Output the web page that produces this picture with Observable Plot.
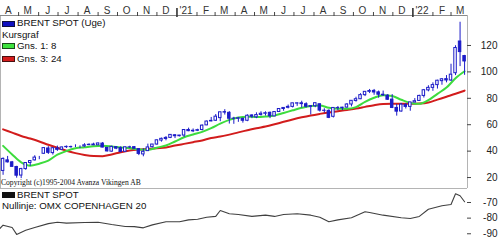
<!DOCTYPE html>
<html><head><meta charset="utf-8">
<script src="https://cdn.jsdelivr.net/npm/d3@7"></script>
<script src="https://cdn.jsdelivr.net/npm/@observablehq/plot@0.6"></script>
<style>
html,body{margin:0;padding:0;background:#fff;}
#wrap{position:relative;width:500px;height:240px;overflow:hidden;font-family:Arial,"Liberation Sans",sans-serif;}
#wrap svg{position:absolute;left:0;background:none;}
.lg{position:absolute;font-size:9.7px;color:#111;white-space:nowrap;line-height:12px;}
.sw{position:absolute;width:13px;height:6px;box-sizing:border-box;border:1px solid #222;}
.cr{position:absolute;font-family:"Times New Roman","Liberation Serif",serif;font-size:7.6px;line-height:9px;color:#111;white-space:nowrap;}
</style></head><body><div id="wrap"></div>
<script>
// ---- data ----
const weeks = ["2020-04-03","2020-04-10","2020-04-17","2020-04-24","2020-05-01","2020-05-08","2020-05-15","2020-05-22","2020-05-29","2020-06-05","2020-06-12","2020-06-19","2020-06-26","2020-07-03","2020-07-10","2020-07-17","2020-07-24","2020-07-31","2020-08-07","2020-08-14","2020-08-21","2020-08-28","2020-09-04","2020-09-11","2020-09-18","2020-09-25","2020-10-02","2020-10-09","2020-10-16","2020-10-23","2020-10-30","2020-11-06","2020-11-13","2020-11-20","2020-11-27","2020-12-04","2020-12-11","2020-12-18","2020-12-25",
"2021-01-01","2021-01-08","2021-01-15","2021-01-22","2021-01-29","2021-02-05","2021-02-12","2021-02-19","2021-02-26","2021-03-05","2021-03-12","2021-03-19","2021-03-26","2021-04-02","2021-04-09","2021-04-16","2021-04-23","2021-04-30","2021-05-07","2021-05-14","2021-05-21","2021-05-28","2021-06-04","2021-06-11","2021-06-18","2021-06-25","2021-07-02","2021-07-09","2021-07-16","2021-07-23","2021-07-30","2021-08-06","2021-08-13","2021-08-20","2021-08-27","2021-09-03","2021-09-10","2021-09-17","2021-09-24","2021-10-01","2021-10-08","2021-10-15","2021-10-22","2021-10-29","2021-11-05","2021-11-12","2021-11-19","2021-11-26","2021-12-03","2021-12-10","2021-12-17","2021-12-24","2021-12-31",
"2022-01-07","2022-01-14","2022-01-21","2022-01-28","2022-02-04","2022-02-11","2022-02-18","2022-02-25","2022-03-04","2022-03-11","2022-03-18"];
const open  = [25.0,33.0,31.5,28.0,21.5,26.4,31.0,33.0,35.3,38.0,42.0,38.5,42.0,41.0,43.0,43.0,43.3,43.3,43.5,44.5,45.0,44.4,45.7,42.5,39.6,43.0,42.3,39.5,42.8,43.0,41.5,37.5,40.0,43.0,45.0,48.0,49.2,50.0,52.0,
51.3,51.8,56.0,55.0,55.4,56.0,59.5,62.5,63.0,65.0,69.5,69.0,64.5,64.5,64.5,63.0,67.0,65.6,67.4,68.3,69.0,66.3,69.6,71.9,72.8,73.5,76.0,76.2,75.5,73.5,74.0,75.5,70.5,70.5,66.0,72.5,72.5,73.0,75.3,78.0,79.3,82.4,84.9,85.6,84.5,82.7,82.0,79.0,72.7,70.0,75.0,73.5,76.8,
78.0,81.8,86.0,87.9,90.0,93.0,94.5,93.5,99.0,123.0,112.0];
const high  = [34.9,36.0,32.2,28.5,27.0,31.0,32.5,36.5,36.0,42.5,43.4,42.8,43.8,43.0,43.9,43.8,44.8,44.0,45.6,45.5,46.0,46.2,46.5,42.5,43.8,43.0,43.3,43.2,43.7,43.5,41.8,41.8,45.3,45.0,48.5,49.9,51.0,52.5,52.5,
51.9,56.3,57.4,56.8,56.6,59.9,62.8,65.5,67.7,69.4,71.4,69.9,65.6,65.5,64.9,67.5,67.6,69.0,69.8,69.8,69.6,69.9,72.0,73.0,74.9,76.2,76.6,77.8,76.6,74.0,76.4,75.6,72.1,71.3,72.7,73.8,73.2,76.0,78.1,80.8,83.5,85.1,86.7,86.7,85.5,85.5,82.8,82.8,75.3,76.1,75.9,76.9,79.8,
82.3,86.7,89.5,91.7,93.7,95.0,97.2,105.8,119.8,137.6,112.5];
const low   = [21.7,31.0,27.7,19.5,19.2,25.5,28.5,32.5,33.5,37.5,37.5,37.0,39.8,40.5,42.0,42.2,42.7,42.0,43.0,44.2,44.2,44.4,42.5,39.3,39.2,41.1,38.8,39.4,41.9,41.5,36.6,35.7,39.8,42.5,44.5,46.8,47.8,49.5,49.5,
50.8,50.4,54.7,54.0,54.8,55.3,59.3,62.2,62.5,62.3,67.3,60.5,60.3,61.8,61.2,62.3,64.6,64.6,66.5,66.6,64.6,66.1,69.3,70.2,72.0,72.7,73.9,72.6,72.7,67.4,72.9,69.6,68.8,64.6,65.1,70.6,70.7,72.5,73.5,77.1,79.0,81.3,83.6,82.3,80.1,81.4,78.4,72.2,66.5,69.5,71.9,70.2,76.7,
77.7,80.2,84.9,85.3,87.0,89.9,91.7,92.7,97.2,104.0,97.4];
const close = [34.1,31.5,28.1,21.4,26.4,31.0,32.5,35.1,35.3,42.3,38.7,42.2,41.0,42.8,43.2,43.1,43.3,43.3,44.4,44.8,44.4,45.8,42.7,39.8,43.2,41.9,39.3,42.9,42.9,41.8,37.9,39.5,42.8,45.0,48.2,49.3,50.0,52.3,51.3,
51.8,56.0,55.1,55.4,55.9,59.3,62.4,62.9,66.1,69.4,69.2,64.5,64.6,64.9,63.0,66.8,66.1,67.3,68.3,68.7,66.4,69.6,71.9,72.7,73.5,76.2,76.2,75.6,73.6,74.1,76.3,70.7,70.6,65.2,72.7,72.6,72.9,75.3,78.1,79.3,82.4,84.9,85.5,84.4,82.7,82.2,78.9,72.7,69.9,75.2,73.5,76.9,77.8,
81.8,86.1,87.9,90.0,93.3,94.4,93.5,97.9,118.1,115.0,107.9];

const maDates = ["2020-04-03","2020-04-17","2020-05-01","2020-05-15","2020-05-29","2020-06-12","2020-06-26","2020-07-10","2020-07-24","2020-08-07","2020-08-21","2020-09-04","2020-09-18","2020-10-02","2020-10-16","2020-10-30","2020-11-13","2020-11-27","2020-12-11","2020-12-25",
"2021-01-08","2021-01-22","2021-02-05","2021-02-19","2021-03-05","2021-03-19","2021-04-02","2021-04-16","2021-04-30","2021-05-14","2021-05-28","2021-06-11","2021-06-25","2021-07-09","2021-07-23","2021-08-06","2021-08-20","2021-09-03","2021-09-17","2021-10-01","2021-10-15","2021-10-29","2021-11-12","2021-11-26","2021-12-10","2021-12-24",
"2022-01-07","2022-01-21","2022-02-04","2022-02-18","2022-03-04","2022-03-18"];
const ma8  = [44,37.5,31.5,29,30.5,32.8,37.3,40.1,42.1,42.9,43.7,44.0,43.5,42.7,42.3,41.2,41.1,42.6,44.3,47.3,50.5,52.6,54.6,57.4,60.8,63.7,65.5,66.1,65.8,66.2,67.0,68.9,70.9,72.8,74.2,74.5,72.8,72.0,72.0,73.3,77.3,80.4,82.4,81.7,78.9,76.5,75.8,78.6,83.4,88.1,95.2,100.5];
const ma24 = [56.5,54,51.5,49.5,47.3,44.8,42.5,40.3,38.5,37.1,36.3,36.2,37.5,39.2,40.5,41.2,41.6,42.2,42.8,44.2,45.5,46.8,48.1,50,51,52.5,54.2,55.8,57.4,58.6,60.3,62.2,64,65.6,67,68.2,69.3,70.2,71.2,72.2,73.5,74.8,75.7,75.9,75.8,75.8,76,76.8,79,81.2,83.4,85.8];

const rsDates = ["2020-03-27","2020-04-03","2020-04-17","2020-04-24","2020-05-08","2020-05-22","2020-06-12","2020-06-26","2020-07-10","2020-08-07","2020-08-28","2020-09-18","2020-10-09","2020-10-23","2020-11-06","2020-11-20","2020-12-11",
"2021-01-01","2021-01-15","2021-01-29","2021-02-12","2021-02-26","2021-03-05","2021-03-19","2021-04-02","2021-04-23","2021-05-14","2021-05-28","2021-06-11","2021-07-02","2021-07-23","2021-08-06","2021-08-20","2021-09-03","2021-09-24","2021-10-15","2021-10-22","2021-11-12","2021-12-10","2021-12-24",
"2022-01-07","2022-01-21","2022-02-11","2022-02-25","2022-03-04","2022-03-11","2022-03-18"];
const rsValues = [-87.5,-84.5,-86,-90.4,-87.8,-86,-83.5,-82.6,-83.2,-82.8,-82.6,-84.1,-85.3,-85.4,-86.2,-84.3,-82.3,
-82.3,-81.1,-80.7,-79.4,-78.9,-75.1,-77.2,-77.7,-78.9,-78.1,-78.9,-77.7,-77.2,-78.1,-79.4,-82.3,-81.1,-79.8,-75.9,-76.4,-78.1,-79.8,-80.2,
-78.9,-74.3,-72.1,-71.3,-64.4,-65.7,-69.5];

const monthTicks = ["2020-05-01","2020-06-01","2020-07-01","2020-08-01","2020-09-01","2020-10-01","2020-11-01","2020-12-01","2021-02-01","2021-03-01","2021-04-01","2021-05-01","2021-06-01","2021-07-01","2021-08-01","2021-09-01","2021-10-01","2021-11-01","2021-12-01","2022-02-01","2022-03-01"];
const yearTicks = ["2021-01-01","2022-01-01"];
const monthLabelDates = ["2020-04-15","2020-05-15","2020-06-15","2020-07-15","2020-08-15","2020-09-15","2020-10-15","2020-11-15","2020-12-15","2021-01-15","2021-02-15","2021-03-15","2021-04-15","2021-05-15","2021-06-15","2021-07-15","2021-08-15","2021-09-15","2021-10-15","2021-11-15","2021-12-15","2022-01-15","2022-02-15","2022-03-15"];
const monthLabels = ["A","M","J","J","A","S","O","N","D","'21","F","M","A","M","J","J","A","S","O","N","D","'22","F","M"];
const priceTicks = [20,40,60,80,100,120];
const rsTicks = [-70,-80,-90];

// ---- build ----
const parse = d3.utcParse("%Y-%m-%d");
const shift = d => d3.utcDay.offset(d, 4);
const candles = weeks.map((w, i) => ({date: shift(parse(w)), open: open[i], high: high[i], low: low[i], close: close[i]}));
const g8 = maDates.map((d, i) => ({date: shift(parse(d)), v: ma8[i]}));
const g24 = maDates.map((d, i) => ({date: shift(parse(d)), v: ma24[i]}));
const rs = rsDates.map((d, i) => ({date: shift(parse(d)), v: rsValues[i]}));
const xDomain = [parse("2020-04-03"), new Date(Date.UTC(2022, 2, 26, 12))];
const yMain = [11.7, 142.7];
const BLUE = "#1c1cc8";
const halfW = 46; // hours, half body width

const font = {fontFamily: "Arial, 'Liberation Sans', sans-serif", fontSize: "9.7px", background: "none", overflow: "visible"};

const main = Plot.plot({
  width: 500, height: 190, marginTop: 15, marginBottom: 2, marginLeft: 0, marginRight: 33,
  x: {type: "utc", domain: xDomain, axis: null},
  y: {domain: yMain, axis: null},
  style: font,
  marks: [
    Plot.ruleY([yMain[0]], {stroke: "#b4b4b4"}),
    Plot.ruleX([xDomain[0]], {stroke: "#b4b4b4"}),
    Plot.ruleX([xDomain[1]], {stroke: "#b4b4b4"}),
    Plot.ruleY([yMain[1]], {stroke: "#8a8a8a"}),
    Plot.ruleX(monthTicks, {x: d => parse(d), insetTop: -3, insetBottom: 172, stroke: "#444"}),
    Plot.ruleX(yearTicks, {x: d => parse(d), insetTop: -7, insetBottom: 171, stroke: "#333", strokeWidth: 1.6}),
    Plot.text(monthLabelDates, {x: d => parse(d), text: (d, i) => monthLabels[i], frameAnchor: "top", dy: -9, fill: "#333", fontSize: 10}),
    Plot.ruleY(priceTicks, {insetLeft: 467, insetRight: -4, stroke: "#444"}),
    Plot.text(priceTicks, {y: d => d, text: d => String(d), frameAnchor: "right", textAnchor: "end", dx: 30, fill: "#222", fontSize: 10}),
    Plot.line(g24, {x: "date", y: "v", stroke: "#d21c1c", strokeWidth: 2, curve: "monotone-x"}),
    Plot.line(g8, {x: "date", y: "v", stroke: "#3ddc3d", strokeWidth: 2, curve: "monotone-x"}),
    Plot.ruleX(candles, {x: "date", y1: "low", y2: "high", stroke: BLUE, strokeWidth: 1}),
    Plot.rect(candles, {filter: d => d.close >= d.open, x1: d => d3.utcHour.offset(d.date, -halfW), x2: d => d3.utcHour.offset(d.date, halfW), y1: "open", y2: "close", fill: "white", stroke: BLUE, strokeWidth: 1}),
    Plot.rect(candles, {filter: d => d.close < d.open, x1: d => d3.utcHour.offset(d.date, -halfW), x2: d => d3.utcHour.offset(d.date, halfW), y1: "open", y2: "close", fill: BLUE, stroke: BLUE, strokeWidth: 1})
  ]
});
main.style.top = "0px";

const bottom = Plot.plot({
  width: 500, height: 52, marginTop: 0, marginBottom: 0, marginLeft: 0, marginRight: 33,
  x: {type: "utc", domain: xDomain, axis: null},
  y: {domain: [-94.3, -61.05], axis: null},
  style: font,
  marks: [
    Plot.line(rs, {x: "date", y: "v", stroke: "#404040", strokeWidth: 1.1}),
    Plot.ruleY(rsTicks, {insetLeft: 467, insetRight: -4, stroke: "#444"}),
    Plot.text(rsTicks, {y: d => d, text: d => String(d), frameAnchor: "right", textAnchor: "end", dx: 30, fill: "#222", fontSize: 10})
  ]
});
bottom.style.top = "188px";

const wrap = document.getElementById("wrap");
wrap.appendChild(main);
wrap.appendChild(bottom);

function add(html) { wrap.insertAdjacentHTML("beforeend", html); }
add('<div class="sw" style="left:2px;top:21px;background:#1010c0;border-color:#101040"></div>');
add('<div class="lg" style="left:17px;top:17px">BRENT SPOT (Uge)</div>');
add('<div class="lg" style="left:2px;top:28.5px">Kursgraf</div>');
add('<div class="sw" style="left:2px;top:43px;background:#3ee23e;border-color:#1a4a1a"></div>');
add('<div class="lg" style="left:17px;top:39.5px">Gns. 1: 8</div>');
add('<div class="sw" style="left:2px;top:56px;background:#d41c1c;border-color:#4a1010"></div>');
add('<div class="lg" style="left:17px;top:53px">Gns. 3: 24</div>');
add('<div class="cr" style="left:1px;top:177.5px">Copyright (c)1995-2004 Avanza Vikingen AB</div>');
add('<div class="sw" style="left:2px;top:192px;background:#111;border-color:#111"></div>');
add('<div class="lg" style="left:17px;top:188.5px">BRENT SPOT</div>');
add('<div class="lg" style="left:2px;top:200px">Nullinje: OMX COPENHAGEN 20</div>');
</script></body></html>
